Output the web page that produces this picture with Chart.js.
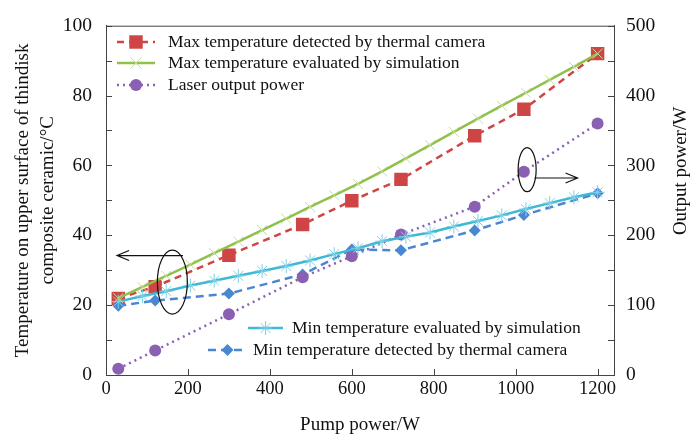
<!DOCTYPE html>
<html>
<head>
<meta charset="utf-8">
<script src="https://cdn.jsdelivr.net/npm/chart.js@4/dist/chart.umd.min.js"></script>
<style>
  html, body { margin: 0; padding: 0; background: #fff; }
  #wrap { width: 690px; height: 439px; }
</style>
</head>
<body>
<div id="wrap"><canvas id="chart"></canvas></div>
<script>
// measured points
const pumpPower = [30, 120, 300, 480, 600, 720, 900, 1020, 1200];
const maxTempCamera = [21.9, 25.3, 34.3, 43.1, 49.9, 56.0, 68.5, 76.1, 92.0];
const minTempCamera = [19.8, 21.3, 23.3, 28.8, 35.9, 35.7, 41.4, 45.8, 52.0];
const laserOutput = [9, 35, 87, 140, 170, 201, 241, 291, 360];

// simulation points
const simPump = [30, 89, 147, 206, 264, 323, 381, 440, 498, 557, 615, 674, 732, 791, 849, 908, 966, 1025, 1083, 1142, 1200];
const maxTempSim = [22.0, 25.2, 28.4, 31.6, 34.9, 38.2, 41.5, 44.8, 48.1, 51.4, 54.7, 58.3, 62.0, 65.8, 69.6, 73.4, 77.1, 80.8, 84.5, 88.2, 92.0];
const minTempSim = [21.0, 22.6, 24.0, 25.6, 27.0, 28.4, 29.8, 31.2, 32.8, 34.6, 36.3, 38.3, 39.6, 40.8, 42.5, 44.1, 45.7, 47.5, 49.2, 50.9, 52.3];

const xTickValues = [0, 200, 400, 600, 800, 1000, 1200];

const seriesNames = [
    'Max temperature detected by thermal camera',
    'Max temperature evaluated by simulation',
    'Laser output power',
    'Min temperature evaluated by simulation',
    'Min temperature detected by thermal camera'
];

const xTitle = 'Pump power/W';
const yLeftTitle = ['Temperature on upper surface of thindisk', 'composite ceramic/\u00B0C'];
const yRightTitle = 'Output power/W';

const colors = {
    red: '#cf4545',
    green: '#8fc14a',
    greenMark: '#c6dc98',
    purple: '#8a60b2',
    cyan: '#3db9d6',
    cyanMark: '#7fd0e3',
    blue: '#4a87d3'
};

const pts = (xs, ys) => xs.map((x, i) => ({ x: x, y: ys[i] }));

Chart.defaults.font.family = 'Liberation Serif';
Chart.defaults.color = '#111';

// simple marker painter used by the in-plot legends
function marker(ctx, style, x, y, r, color, lw) {
    ctx.save();
    ctx.fillStyle = color;
    ctx.strokeStyle = color;
    ctx.lineWidth = lw || 1;
    ctx.setLineDash([]);
    ctx.beginPath();
    if (style === 'rect') {
        const s = r * Math.SQRT1_2;
        ctx.rect(x - s, y - s, 2 * s, 2 * s);
        ctx.fill();
    } else if (style === 'circle') {
        ctx.arc(x, y, r, 0, Math.PI * 2);
        ctx.fill();
    } else if (style === 'rectRot') {
        ctx.moveTo(x, y - r); ctx.lineTo(x + r, y); ctx.lineTo(x, y + r); ctx.lineTo(x - r, y);
        ctx.closePath();
        ctx.fill();
    } else if (style === 'crossRot') {
        const s = r * Math.SQRT1_2;
        ctx.moveTo(x - s, y - s); ctx.lineTo(x + s, y + s);
        ctx.moveTo(x + s, y - s); ctx.lineTo(x - s, y + s);
        ctx.stroke();
    } else if (style === 'star') {
        const s = r * Math.SQRT1_2;
        ctx.moveTo(x - r, y); ctx.lineTo(x + r, y);
        ctx.moveTo(x, y - r); ctx.lineTo(x, y + r);
        ctx.moveTo(x - s, y - s); ctx.lineTo(x + s, y + s);
        ctx.moveTo(x + s, y - s); ctx.lineTo(x - s, y + s);
        ctx.stroke();
    }
    ctx.restore();
}

function legendRow(ctx, x0, x1, y, line, mk, text, tx) {
    ctx.save();
    ctx.strokeStyle = line.color;
    ctx.lineWidth = 2.5;
    ctx.setLineDash(line.dash);
    ctx.beginPath();
    ctx.moveTo(x0, y);
    ctx.lineTo(x1, y);
    ctx.stroke();
    ctx.restore();
    marker(ctx, mk.style, (x0 + x1) / 2, y, mk.r, mk.color, mk.lw);
    ctx.save();
    ctx.fillStyle = '#111';
    ctx.font = '17.5px "Liberation Serif"';
    ctx.textBaseline = 'middle';
    ctx.textAlign = 'left';
    ctx.fillText(text, tx, y);
    ctx.restore();
}

const decor = {
    id: 'decor',
    afterDraw(chart) {
        const ctx = chart.ctx;
        const a = chart.chartArea;
        const xs = chart.scales.x, yl = chart.scales.y, yr = chart.scales.y2;

        ctx.save();
        ctx.strokeStyle = '#444';
        ctx.lineWidth = 1;
        // top frame line
        ctx.beginPath();
        ctx.moveTo(a.left, a.top + 0.5);
        ctx.lineTo(a.right, a.top + 0.5);
        ctx.stroke();
        // inward ticks
        ctx.beginPath();
        xs.ticks.forEach(t => {
            const px = Math.round(xs.getPixelForValue(t.value)) + 0.5;
            ctx.moveTo(px, a.bottom); ctx.lineTo(px, a.bottom - 6);
        });
        yl.ticks.forEach(t => {
            const py = Math.round(yl.getPixelForValue(t.value)) + 0.5;
            ctx.moveTo(a.left, py); ctx.lineTo(a.left + 6, py);
        });
        yr.ticks.forEach(t => {
            const py = Math.round(yr.getPixelForValue(t.value)) + 0.5;
            ctx.moveTo(a.right, py); ctx.lineTo(a.right - 6, py);
        });
        ctx.stroke();

        // annotation: left ellipse and arrow (temperature axis)
        ctx.strokeStyle = '#111';
        ctx.lineWidth = 1.2;
        ctx.beginPath();
        ctx.ellipse(xs.getPixelForValue(162), yl.getPixelForValue(26.6), 15, 32, 0, 0, Math.PI * 2);
        ctx.stroke();
        const ay = yl.getPixelForValue(34.2);
        const ax0 = xs.getPixelForValue(188), ax1 = xs.getPixelForValue(27);
        ctx.beginPath();
        ctx.moveTo(ax0, ay); ctx.lineTo(ax1, ay);
        ctx.moveTo(ax1 + 12, ay - 5); ctx.lineTo(ax1, ay); ctx.lineTo(ax1 + 12, ay + 5);
        ctx.stroke();

        // annotation: right ellipse and arrow (output power axis)
        ctx.beginPath();
        ctx.ellipse(xs.getPixelForValue(1028), yr.getPixelForValue(294), 9, 22, 0, 0, Math.PI * 2);
        ctx.stroke();
        const by = yr.getPixelForValue(282);
        const bx0 = xs.getPixelForValue(1046), bx1 = xs.getPixelForValue(1151);
        ctx.beginPath();
        ctx.moveTo(bx0, by); ctx.lineTo(bx1, by);
        ctx.moveTo(bx1 - 12, by - 5); ctx.lineTo(bx1, by); ctx.lineTo(bx1 - 12, by + 5);
        ctx.stroke();
        ctx.restore();

        // right axis title, reading bottom to top
        ctx.save();
        ctx.translate(681, 171);
        ctx.rotate(-Math.PI / 2);
        ctx.fillStyle = '#111';
        ctx.font = '19px "Liberation Serif"';
        ctx.textAlign = 'center';
        ctx.textBaseline = 'middle';
        ctx.fillText(yRightTitle, 0, 0);
        ctx.restore();

        // top legend
        legendRow(ctx, 117, 155, 42, { color: colors.red, dash: [7, 5] },
            { style: 'rect', r: 9.5, color: colors.red }, seriesNames[0], 168);
        legendRow(ctx, 117, 155, 63, { color: colors.green, dash: [] },
            { style: 'crossRot', r: 8, color: colors.greenMark, lw: 1 }, seriesNames[1], 168);
        legendRow(ctx, 117, 155, 85, { color: colors.purple, dash: [2, 4] },
            { style: 'circle', r: 6, color: colors.purple }, seriesNames[2], 168);

        // bottom legend
        legendRow(ctx, 248, 283, 328, { color: colors.cyan, dash: [] },
            { style: 'star', r: 7, color: colors.cyanMark, lw: 1 }, seriesNames[3], 292);
        legendRow(ctx, 208, 247, 350, { color: colors.blue, dash: [8, 5] },
            { style: 'rectRot', r: 6, color: colors.blue }, seriesNames[4], 253);
    }
};

new Chart(document.getElementById('chart'), {
    type: 'line',
    data: {
        datasets: [
            {
                label: seriesNames[1], data: pts(simPump, maxTempSim), yAxisID: 'y',
                borderColor: colors.green, borderWidth: 2.5,
                pointStyle: 'crossRot', pointRadius: 7, pointBorderWidth: 1,
                pointBorderColor: colors.greenMark, pointBackgroundColor: colors.greenMark
            },
            {
                label: seriesNames[3], data: pts(simPump, minTempSim), yAxisID: 'y',
                borderColor: colors.cyan, borderWidth: 2.5,
                pointStyle: 'star', pointRadius: 7, pointBorderWidth: 1,
                pointBorderColor: colors.cyanMark, pointBackgroundColor: colors.cyanMark
            },
            {
                label: seriesNames[2], data: pts(pumpPower, laserOutput), yAxisID: 'y2',
                borderColor: colors.purple, borderWidth: 2.5, borderDash: [2, 4],
                pointStyle: 'circle', pointRadius: 6, pointBorderWidth: 0,
                pointBackgroundColor: colors.purple
            },
            {
                label: seriesNames[4], data: pts(pumpPower, minTempCamera), yAxisID: 'y',
                borderColor: colors.blue, borderWidth: 2.5, borderDash: [8, 5],
                pointStyle: 'rectRot', pointRadius: 6, pointBorderWidth: 0,
                pointBackgroundColor: colors.blue
            },
            {
                label: seriesNames[0], data: pts(pumpPower, maxTempCamera), yAxisID: 'y',
                borderColor: colors.red, borderWidth: 2.5, borderDash: [7, 5],
                pointStyle: 'rect', pointRadius: 9.5, pointBorderWidth: 0,
                pointBackgroundColor: colors.red
            }
        ]
    },
    options: {
        responsive: true,
        maintainAspectRatio: false,
        animation: false,
        layout: { padding: { top: 18, left: 0, right: 0, bottom: 0 } },
        elements: { line: { tension: 0, fill: false } },
        plugins: {
            legend: { display: false },
            tooltip: { enabled: false }
        },
        scales: {
            x: {
                type: 'linear', position: 'bottom', min: 0, max: 1240,
                grid: { display: false, drawTicks: false },
                border: { display: true, color: '#444', width: 1 },
                afterBuildTicks: s => { s.ticks = xTickValues.map(v => ({ value: v })); },
                ticks: {
                    autoSkip: false, maxRotation: 0,
                    padding: 3, font: { size: 18.5 }, color: '#111',
                    callback: v => String(v)
                },
                title: {
                    display: true, text: xTitle, font: { size: 19 }, color: '#111',
                    padding: { top: 0, bottom: 3 }
                },
                afterFit: s => { s.height = 64; }
            },
            y: {
                type: 'linear', position: 'left', min: 0, max: 100,
                grid: { display: false, drawTicks: false },
                border: { display: true, color: '#444', width: 1 },
                ticks: {
                    stepSize: 10, autoSkip: false, padding: 14, font: { size: 19.5 }, color: '#111',
                    callback: v => (v % 20 === 0 ? v : '')
                },
                title: {
                    display: true, text: yLeftTitle, font: { size: 19, lineHeight: 1.3 }, color: '#111',
                    padding: { top: 11, bottom: 0 }
                },
                afterFit: s => { s.width = 106; }
            },
            y2: {
                type: 'linear', position: 'right', min: 0, max: 500,
                grid: { display: false, drawTicks: false },
                border: { display: true, color: '#444', width: 1 },
                ticks: {
                    stepSize: 50, autoSkip: false, padding: 12, font: { size: 19.5 }, color: '#111',
                    callback: v => (v % 100 === 0 ? v : '')
                },
                title: { display: false },
                afterFit: s => { s.width = 76; }
            }
        }
    },
    plugins: [decor]
});
</script>
</body>
</html>
